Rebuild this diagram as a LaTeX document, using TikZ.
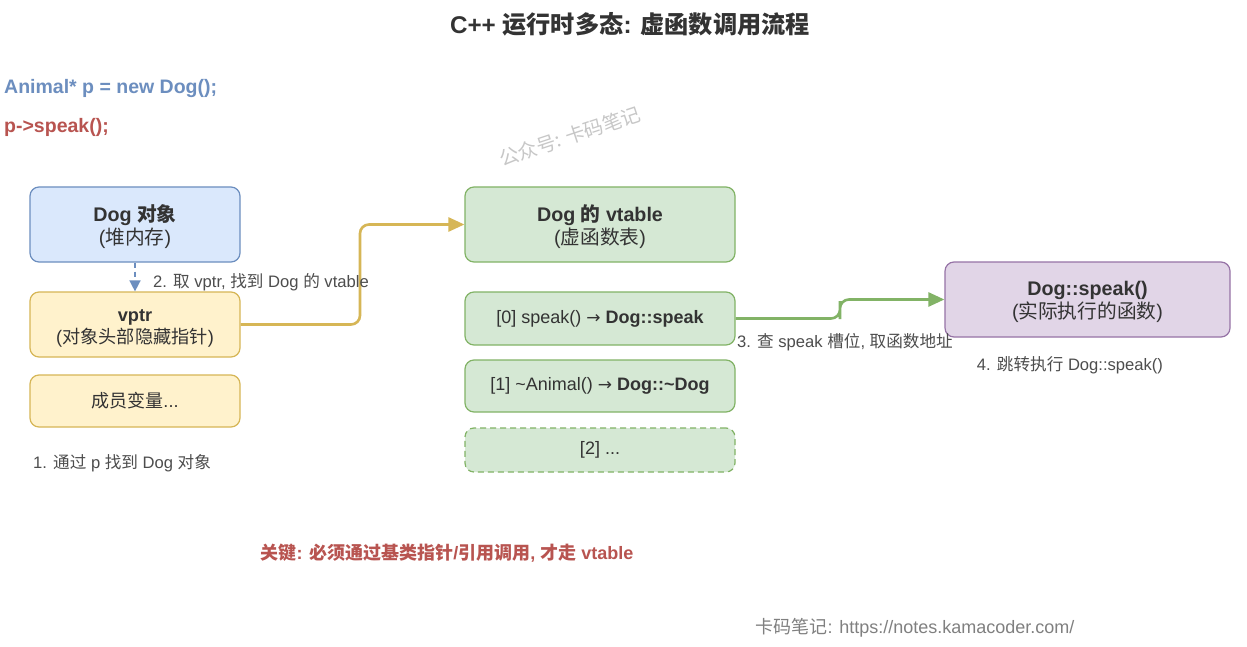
\documentclass[tikz,border=0pt]{standalone}
\usepackage{fontspec}
\setmainfont{Liberation Sans}
\newfontfamily\cjk{Noto Sans CJK SC}
\newfontfamily\dejavu{DejaVu Sans}
\newcommand\zh[1]{{\cjk #1}}
\usetikzlibrary{arrows.meta}
\definecolor{bluefill}{HTML}{DAE8FC}
\definecolor{bluedraw}{HTML}{6C8EBF}
\definecolor{yelfill}{HTML}{FFF2CC}
\definecolor{yeldraw}{HTML}{D6B656}
\definecolor{grnfill}{HTML}{D5E8D4}
\definecolor{grndraw}{HTML}{82B366}
\definecolor{purfill}{HTML}{E1D5E7}
\definecolor{purdraw}{HTML}{9673A6}
\definecolor{redtxt}{HTML}{B85450}
\definecolor{txt}{HTML}{333333}
\definecolor{lbl}{HTML}{4D4D4D}
\tikzset{
  box/.style={rounded corners=9pt, line width=1.2pt, align=center, text=txt,
    font=\fontsize{18}{22}\selectfont, inner sep=0pt},
  bigtxt/.style={align=center, text=txt, inner sep=0pt, font=\fontsize{19.7}{23}\selectfont},
  midtxt/.style={align=center, text=txt, inner sep=0pt, font=\fontsize{18.2}{22}\selectfont},
  inside/.style 2 args={label={[bigtxt, yshift=#1]center:{#2}}},
  insidemid/.style 2 args={label={[midtxt, yshift=#1]center:{#2}}},
  bluebox/.style={box, fill=bluefill, draw=bluedraw},
  yelbox/.style={box, fill=yelfill, draw=yeldraw},
  grnbox/.style={box, fill=grnfill, draw=grndraw},
  purbox/.style={box, fill=purfill, draw=purdraw},
  lab/.style={text=lbl, font=\fontsize{16.6}{19}\selectfont, inner sep=0pt},
  conn/.style={line width=2.6pt, rounded corners=9pt, -{Triangle[length=16pt,width=14pt]}},
}
\newcommand\arr{{\dejavu\fontsize{17}{18}\selectfont →}}
\begin{document}
\begin{tikzpicture}[x=1pt,y=-1pt]
\useasboundingbox (0,0) rectangle (1247,647);
\fill[white] (0,0) rectangle (1247,647);

\node[text=txt, font=\fontsize{24.2}{27}\selectfont\bfseries] (title) at (630,24) {C++ \zh{运行时多态}: \zh{虚函数调用流程}};

\node[anchor=west, text=bluedraw, font=\fontsize{19.5}{22}\selectfont\bfseries, inner sep=0pt] (code1) at (4,89) {Animal* p = new Dog();};
\node[anchor=west, text=redtxt, font=\fontsize{19.5}{22}\selectfont\bfseries, inner sep=0pt] (code2) at (4,127) {p->speak();};

\node[text=black!22, font=\fontsize{19.5}{22}\selectfont, rotate=18.3] (wm) at (570,136) {\zh{公众号: 卡码笔记}};

% left column
\node[bluebox, minimum width=210pt, minimum height=75pt,
  inside={-2.5pt}{\textbf{Dog \zh{对象}}\\(\zh{堆内存})}] (dog) at (135,224.5) {};
\node[yelbox, minimum width=210pt, minimum height=65pt,
  insidemid={-4pt}{\textbf{vptr}\\(\zh{对象头部隐藏指针})}] (vptr) at (135,324.5) {};
\node[yelbox, minimum width=210pt, minimum height=52pt] (mem) at (135,401) {\zh{成员变量}...};

% vtable column
\node[grnbox, minimum width=270pt, minimum height=75pt,
  inside={-2.5pt}{\textbf{Dog \zh{的} vtable}\\(\zh{虚函数表})}] (vt) at (600,224.5) {};
\node[grnbox, minimum width=270pt, minimum height=53pt] (s0) at (600,318.5) {[0] speak() \arr\ \textbf{Dog::speak}};
\node[grnbox, minimum width=270pt, minimum height=52pt] (s1) at (600,386) {[1] \textasciitilde Animal() \arr\ \textbf{Dog::\textasciitilde Dog}};
\node[grnbox, dashed, dash pattern=on 6pt off 4pt, minimum width=270pt, minimum height=44pt] (s2) at (600,450) {[2] ...};

% target
\node[purbox, minimum width=285pt, minimum height=75pt,
  inside={-2.5pt}{\textbf{Dog::speak()}\\(\zh{实际执行的函数})}] (sp) at (1087.5,299.5) {};

% connectors
\draw[bluedraw, line width=1.5pt, dash pattern=on 5pt off 4pt, -{Triangle[length=11pt,width=11pt]}] (dog.south) -- (vptr.north);
\coordinate (m1) at (360,270);
\draw[conn, yeldraw] (vptr.east) -| (m1) |- (vt.west);
\coordinate (m2) at (840,310);
\draw[conn, grndraw] (s0.east) -| (m2) |- (sp.west);

% labels
\node[lab, anchor=west] (l2) at (153,282) {2. \zh{取} vptr, \zh{找到} Dog \zh{的} vtable};
\node[lab, anchor=west] (l3) at (737,342) {3. \zh{查} speak \zh{槽位}, \zh{取函数地址}};
\node[lab] (l4) at (1070,365) {4. \zh{跳转执行} Dog::speak()};
\node[lab, anchor=west] (l1) at (33,463) {1. \zh{通过} p \zh{找到} Dog \zh{对象}};

\node[text=redtxt, font=\fontsize{18}{22}\selectfont\bfseries] (key) at (447,553) {\zh{关键}: \zh{必须通过基类指针}/\zh{引用调用}, \zh{才走} vtable};

\node[text=black!50, font=\fontsize{18}{22}\selectfont] (foot) at (915,628) {\zh{卡码笔记}: https://notes.kamacoder.com/};
\end{tikzpicture}
\end{document}
